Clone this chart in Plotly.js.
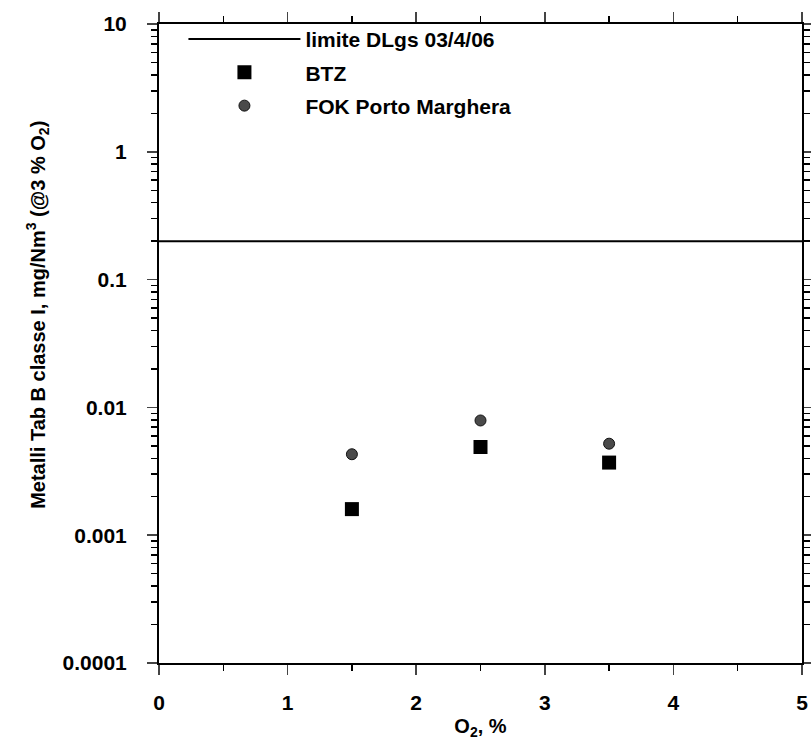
<!DOCTYPE html>
<html>
<head>
<meta charset="utf-8">
<script src="https://cdn.plot.ly/plotly-3.0.1.min.js"></script>
<style>html,body{margin:0;padding:0;background:#fff;}#chart{width:811px;height:742px;}</style>
</head>
<body>
<div id="chart"></div>
<script>
const o2 = [1.5, 2.5, 3.5];
const btz = [0.0016, 0.0049, 0.0037];
const fok = [0.0043, 0.0079, 0.0052];
const limitX = [0, 5];
const limitY = [0.2, 0.2];
const yTickVals = [0.0001, 0.001, 0.01, 0.1, 1, 10];
const yTickText = ["0.0001", "0.001", "0.01", "0.1", "1", "10"];
const xTickVals = [0, 1, 2, 3, 4, 5];
const yTitle = "Metalli Tab B classe I, mg/Nm<sup>3</sup> (@3 % O<sub>2</sub>)";
const xTitle = "O<sub>2</sub>, %";
const yMinorVals = [];
for (let e = -4; e < 1; e++) { for (let m = 2; m <= 9; m++) yMinorVals.push(m * Math.pow(10, e)); }

const fam = "Arial, 'Liberation Sans', sans-serif";
const f = (s) => ({family: fam, size: s, color: "#000", weight: "bold"});

const traces = [
  {x: limitX, y: limitY, mode: "lines", name: "limite DLgs 03/4/06", legendgroup: "a",
   line: {color: "#000", width: 2}},
  {x: o2, y: btz, mode: "markers", name: "BTZ", legendgroup: "b",
   marker: {symbol: "square", size: 14, color: "#000"}},
  {x: o2, y: fok, mode: "markers", name: "FOK Porto Marghera", legendgroup: "c",
   marker: {symbol: "circle", size: 11, color: "#4a4a4a", line: {color: "#111", width: 1}}}
];

const layout = {
  width: 811, height: 742,
  margin: {l: 159, r: 9, t: 24, b: 79},
  paper_bgcolor: "#fff", plot_bgcolor: "#fff",
  font: f(21),
  showlegend: true,
  legend: {x: 0.038, y: 1.008, xanchor: "left", yanchor: "top",
           bgcolor: "rgba(0,0,0,0)", font: f(21),
           itemwidth: 112, tracegroupgap: 3},
  xaxis: {
    range: [0, 5], tickvals: xTickVals, ticks: "outside", ticklen: 10, tickwidth: 1.5,
    ticklabelstandoff: 10,
    showline: true, linecolor: "#000", linewidth: 2, mirror: "ticks", showgrid: false, zeroline: false,
    minor: {dtick: 0.5, ticks: "outside", ticklen: 6, tickcolor: "#000", showgrid: false},
    tickfont: f(21),
    title: {text: xTitle, font: f(20), standoff: 6}
  },
  yaxis: {
    type: "log", range: [-4, 1], tickvals: yTickVals, ticktext: yTickText,
    ticks: "outside", ticklen: 10, tickwidth: 1.5, ticklabelstandoff: 16,
    showline: true, linecolor: "#000", linewidth: 2, mirror: "ticks", showgrid: false, zeroline: false,
    minor: {tickvals: yMinorVals, ticks: "outside", ticklen: 6, tickcolor: "#000", showgrid: false},
    tickfont: f(21)
  },
  annotations: [
    {text: yTitle, xref: "paper", yref: "paper", x: -0.188, y: 0.545,
     xanchor: "center", yanchor: "middle", textangle: -90, showarrow: false, font: f(20)}
  ]
};

Plotly.newPlot("chart", traces, layout, {displayModeBar: false, staticPlot: true});
</script>
</body>
</html>
